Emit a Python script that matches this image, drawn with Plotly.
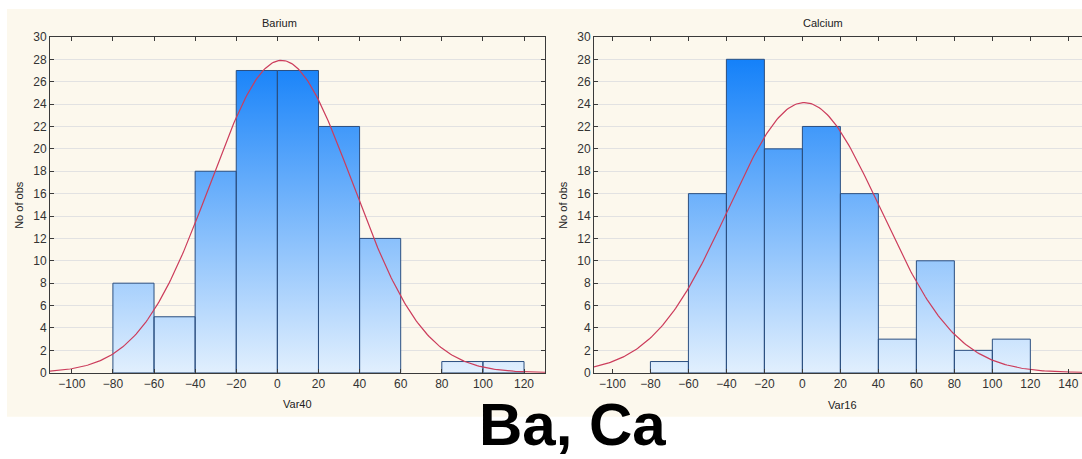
import numpy as np
import plotly.graph_objects as go

# ---------------- data ----------------
bin_edges = [-80, -60, -40, -20, 0, 20, 40, 60, 80, 100, 120]
barium_counts = [8, 5, 18, 27, 27, 22, 12, 0, 1, 1]
calcium_counts = [1, 16, 28, 20, 22, 16, 3, 10, 2, 3]

# fitted normal curve parameters
barium_mean, barium_sd = 2.0, 34.6
calcium_mean, calcium_sd = 1.0, 40.0

panel_titles = ["Barium", "Calcium"]
x_titles = ["Var40", "Var16"]
y_title = "No of obs"
caption = "Ba, Ca"

barium_xticks = list(range(-100, 121, 20))
calcium_xticks = list(range(-100, 141, 20))
y_ticks = list(range(0, 31, 2))

W, H = 1082, 459
FONT = "Liberation Sans, Arial, sans-serif"

# empirical vertical correction observed in the rendering
Y_OFF, Y_SCALE = 6.07, 0.970


def px_x(p):
    return p / W


def px_y(p):
    return 1 - ((p - Y_OFF) / Y_SCALE) / H


def bar_polygons(edges, counts):
    xs, ys = [], []
    for lo, hi, c in zip(edges[:-1], edges[1:], counts):
        if c <= 0:
            continue
        xs += [lo, lo, hi, hi, lo, None]
        ys += [0, c, c, 0, 0, None]
    return xs, ys


def normal_curve(edges, counts, mean, sd, xr):
    n = sum(counts)
    width = edges[1] - edges[0]
    x = np.linspace(xr[0], xr[1], 300)
    y = n * width / (sd * np.sqrt(2 * np.pi)) * np.exp(-0.5 * ((x - mean) / sd) ** 2)
    return x, y


fig = go.Figure()

x_ranges = [[-110.6, 130.2], [-109.7, 147.2]]
panels = [
    (barium_counts, barium_mean, barium_sd, "x", "y"),
    (calcium_counts, calcium_mean, calcium_sd, "x2", "y2"),
]

for (counts, mean, sd, xa, ya), xr in zip(panels, x_ranges):
    bx, by = bar_polygons(bin_edges, counts)
    fig.add_trace(go.Scatter(
        x=bx, y=by, mode="lines", fill="toself",
        line=dict(color="#2b4f80", width=1),
        fillgradient=dict(type="vertical",
                          colorscale=[[0, "#e8f3fe"], [1, "#0d7df9"]],
                          start=0, stop=29),
        xaxis=xa, yaxis=ya, showlegend=False, hoverinfo="skip",
    ))
    cx, cy = normal_curve(bin_edges, counts, mean, sd, xr)
    fig.add_trace(go.Scatter(
        x=cx, y=cy, mode="lines",
        line=dict(color="#cc3d5c", width=1.2),
        xaxis=xa, yaxis=ya, showlegend=False, hoverinfo="skip",
    ))

axis_common = dict(
    showline=True, linecolor="#3a3a3a", linewidth=1,
    ticks="inside", ticklen=4, tickcolor="#3a3a3a",
    tickfont=dict(family=FONT, size=12, color="#333333"),
    zeroline=False,
)

y_dom = [px_y(372), px_y(36)]

fig.update_layout(
    width=W, height=H,
    margin=dict(l=0, r=0, t=0, b=0),
    paper_bgcolor="white", plot_bgcolor="white",
    xaxis=dict(domain=[px_x(50), px_x(545)], range=x_ranges[0],
               tickvals=barium_xticks, showgrid=False, mirror="ticks",
               anchor="y", **axis_common),
    yaxis=dict(domain=y_dom, range=[0, 30], tickvals=y_ticks,
               showgrid=True, gridcolor="#e2e2e2", gridwidth=1,
               mirror="ticks", anchor="x", **axis_common),
    xaxis2=dict(domain=[px_x(594), 1.0], range=x_ranges[1],
                tickvals=calcium_xticks, showgrid=False, mirror="ticks",
                anchor="y2", **axis_common),
    yaxis2=dict(domain=y_dom, range=[0, 30], tickvals=y_ticks,
                showgrid=True, gridcolor="#e2e2e2", gridwidth=1,
                mirror=False, anchor="x2", **axis_common),
    shapes=[dict(type="rect", xref="paper", yref="paper",
                 x0=px_x(7), x1=1.0, y0=px_y(416), y1=px_y(8),
                 fillcolor="#fcf8ed", line=dict(width=0), layer="below")],
)

small = dict(family=FONT, size=11, color="#222222")
annotations = [
    dict(text=panel_titles[0], x=px_x(279), y=px_y(22)),
    dict(text=panel_titles[1], x=px_x(823), y=px_y(22)),
    dict(text=x_titles[0], x=px_x(297), y=px_y(403)),
    dict(text=x_titles[1], x=px_x(842), y=px_y(404)),
    dict(text=y_title, x=px_x(19), y=px_y(204), textangle=-90),
    dict(text=y_title, x=px_x(563), y=px_y(204), textangle=-90),
]
for a in annotations:
    fig.add_annotation(xref="paper", yref="paper", showarrow=False,
                       xanchor="center", yanchor="middle", font=small, **a)

fig.add_annotation(text="<b>" + caption + "</b>", xref="paper", yref="paper",
                   x=px_x(572), y=px_y(424), xanchor="center", yanchor="middle",
                   showarrow=False, borderpad=0,
                   font=dict(family=FONT, size=60, color="black"))

fig.write_html("out.html")
